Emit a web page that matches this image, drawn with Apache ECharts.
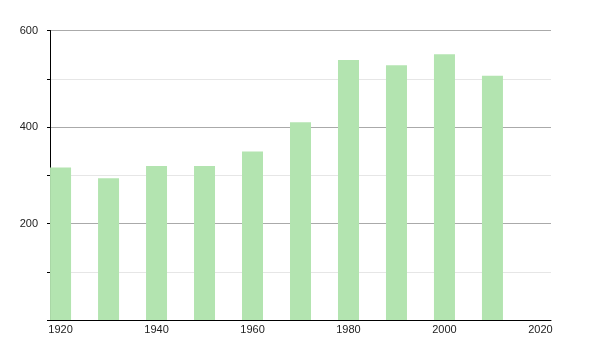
<!DOCTYPE html>
<html>
<head>
<meta charset="utf-8">
<script src="https://cdn.jsdelivr.net/npm/echarts@6/dist/echarts.min.js"></script>
<style>html,body{margin:0;padding:0;background:#fff}#c{width:600px;height:350px}</style>
</head>
<body>
<div id="c"></div>
<script>
const years = [1920, 1930, 1940, 1950, 1960, 1970, 1980, 1990, 2000, 2010];
const population = [316, 294, 319, 319, 349, 410, 539, 528, 551, 506];
const xTickLabels = [1920, 1940, 1960, 1980, 2000, 2020];
const yTickLabels = [200, 400, 600];

const chart = echarts.init(document.getElementById('c'), null, {renderer: 'canvas'});
chart.setOption({
  animation: false,
  backgroundColor: '#fff',
  grid: {left: 50, right: 49, top: 30.5, bottom: 30, containLabel: false},
  xAxis: {
    type: 'value',
    min: 1917.8,
    max: 2022.2,
    axisLine: {show: true, lineStyle: {color: '#000', width: 1}},
    axisTick: {show: false},
    splitLine: {show: false},
    axisLabel: {
      customValues: xTickLabels,
      formatter: v => String(v),
      fontFamily: 'Liberation Sans',
      fontSize: 11,
      color: '#222',
      margin: 4
    }
  },
  yAxis: {
    type: 'value',
    min: 0,
    max: 600,
    interval: 100,
    axisLine: {show: true, lineStyle: {color: '#000', width: 1}},
    axisTick: {show: true, length: 3, lineStyle: {color: '#000'}},
    splitLine: {show: true, lineStyle: {color: ['#aaaaaa', '#e6e6e6'], width: 1}},
    axisLabel: {
      formatter: v => yTickLabels.includes(v) ? String(v) : '',
      fontFamily: 'Liberation Sans',
      fontSize: 11,
      color: '#222',
      margin: 12
    }
  },
  series: [{
    type: 'bar',
    barWidth: 21,
    data: years.map((y, i) => [y, population[i]]),
    itemStyle: {color: '#b3e4b0'}
  }]
});
</script>
</body>
</html>
